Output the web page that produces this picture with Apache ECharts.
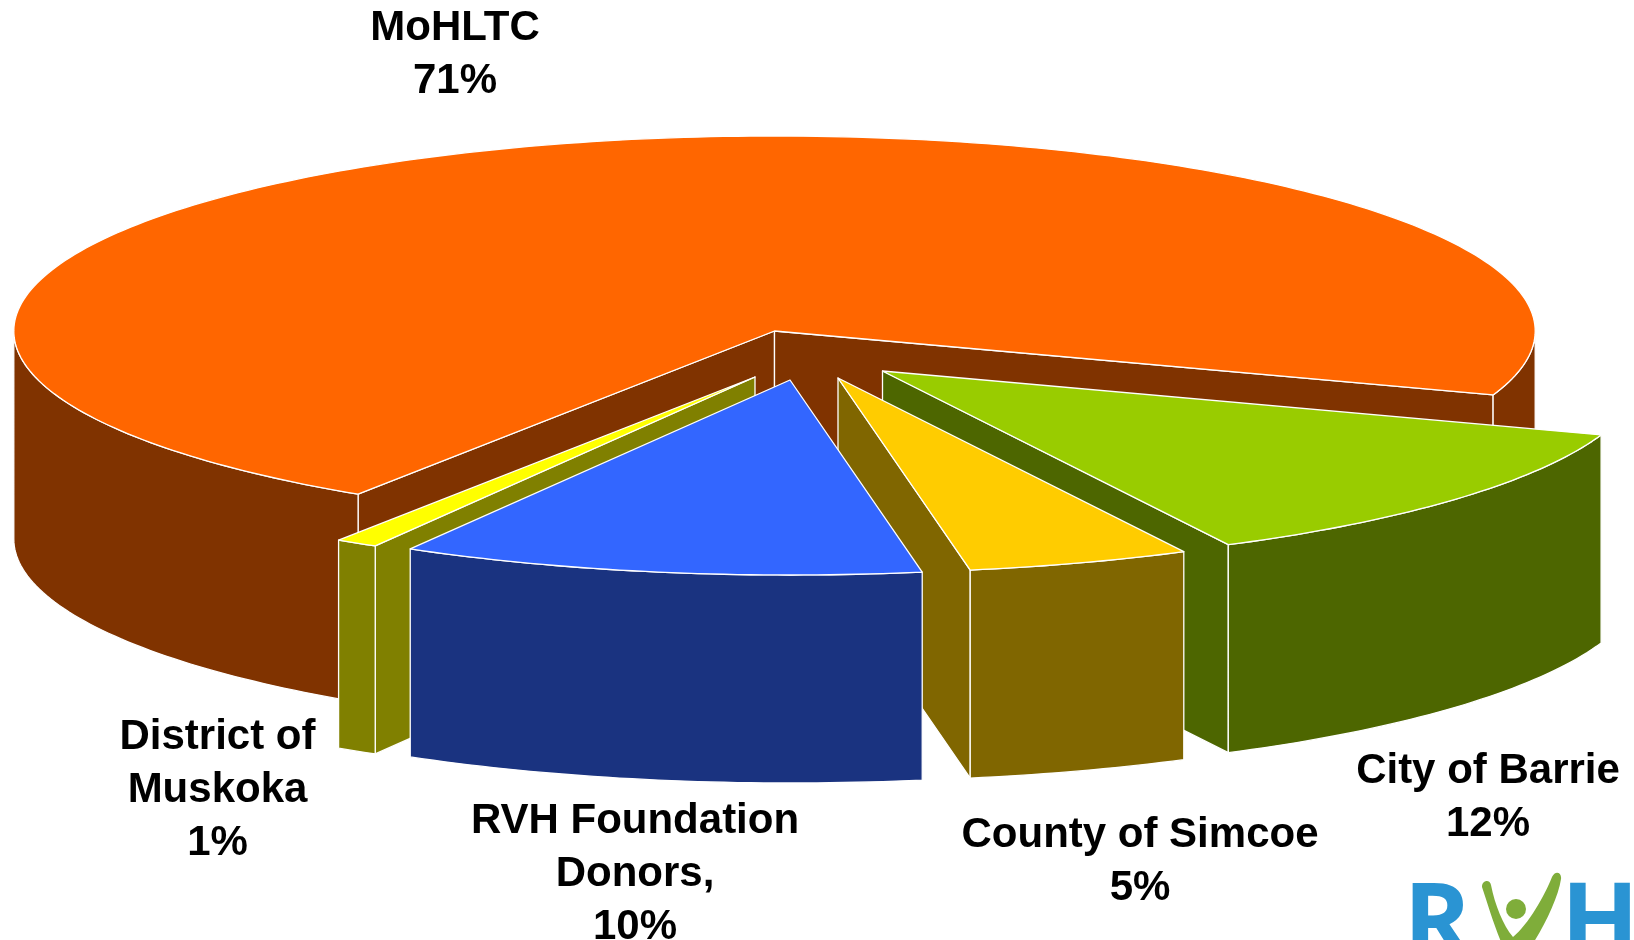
<!DOCTYPE html>
<html>
<head>
<meta charset="utf-8">
<style>html,body{margin:0;padding:0;background:#fff;overflow:hidden}#chart{width:1634px;height:940px}</style>
<script src="https://cdn.jsdelivr.net/npm/echarts@6/dist/echarts.min.js"></script>
</head>
<body>
<div id="chart"></div>
<script>
// Data, clockwise from the first cut edge
const categories = ['City of Barrie', 'County of Simcoe', 'RVH Foundation Donors,', 'District of Muskoka', 'MoHLTC'];
const sliceShares = [12.17, 4.73, 11.1, 0.9, 71.1];   // shares as measured from slice angles
const shareLabels = ['12%', '5%', '10%', '1%', '71%']; // percentages as printed

// Styling and layout
const topColors  = ['#99CC00', '#FFCC00', '#3366FF', '#FFFF00', '#FF6600'];
const wallColors = ['#4D6600', '#806600', '#1A3380', '#808000', '#803300'];
const labelLines = ['City of Barrie', 'County of Simcoe', 'RVH Foundation\nDonors,', 'District of\nMuskoka', 'MoHLTC'];
const explodeX = [108, 63.5, 15.5, -19.5, 0];
const explodeY = [40, 47, 49, 46, 0];
const labelX = [1488, 1140, 635, 217.5, 455];
const labelY = [798, 862, 874, 790, 55];
const paintOrder = [4, 0, 1, 3, 2];
const pie = { cx: 774.5, cy: 331, rx: 760.7, ry: 195, depth: 208, startAngle: 19.15 };

const total = sliceShares.reduce((a, b) => a + b, 0);
const startAngles = [];
sliceShares.reduce((acc, v, i) => { startAngles[i] = acc; return acc + v / total * 360; }, pie.startAngle);

function arcPoints(cx, cy, a0, a1, dz) {
  const pts = [];
  const n = Math.max(2, Math.ceil((a1 - a0) / 1));
  for (let k = 0; k <= n; k++) {
    const t = (a0 + (a1 - a0) * k / n) * Math.PI / 180;
    pts.push([cx + pie.rx * Math.cos(t), cy + pie.ry * Math.sin(t) + dz]);
  }
  return pts;
}
const line = { stroke: '#fff', lineWidth: 1.3, lineJoin: 'round' };
function poly(points, fill) {
  return { type: 'polygon', shape: { points }, style: Object.assign({ fill }, line) };
}

function renderItem(params, api) {
  const i = api.value(0);
  const a0 = startAngles[i];
  const a1 = a0 + api.value(1) / total * 360;
  const cx = pie.cx + explodeX[i], cy = pie.cy + explodeY[i], d = pie.depth;
  const arc = arcPoints(cx, cy, a0, a1, 0);
  const children = [];
  const face = p => poly([[cx, cy], p, [p[0], p[1] + d], [cx, cy + d]], wallColors[i]);
  // Cut faces, only those turned towards the viewer
  if (Math.cos(a0 * Math.PI / 180) < 0) children.push(face(arc[0]));
  if (Math.cos(a1 * Math.PI / 180) > 0) children.push(face(arc[arc.length - 1]));
  // Outer wall: only the arc that faces the viewer
  [0, 360].forEach(base => {
    const s = Math.max(a0, base), e = Math.min(a1, base + 180);
    if (e > s) {
      const up = arcPoints(cx, cy, s, e, 0);
      const down = arcPoints(cx, cy, s, e, d).reverse();
      children.push(poly(up.concat(down), wallColors[i]));
    }
  });
  // Top face
  children.push(poly([[cx, cy]].concat(arc), topColors[i]));
  return { type: 'group', children };
}

function renderLabel(params, api) {
  const i = api.value(0);
  return {
    type: 'text',
    style: {
      text: labelLines[i] + '\n' + shareLabels[i],
      x: labelX[i], y: labelY[i],
      align: 'center', verticalAlign: 'middle',
      font: 'bold 42px "Liberation Sans", Arial, sans-serif',
      lineHeight: 53, fill: '#000'
    }
  };
}

function renderLogoMark() {
  return {
    type: 'group',
    children: [
      { type: 'path', shape: { pathData: 'M1482 887 C1482 880 1490 879 1491 885 C1495 905 1503 925 1513 937 C1528 925 1545 895 1552 877 C1555 870 1562 872 1561 879 C1558 900 1540 935 1525 955 L1508 955 C1500 945 1488 905 1482 887 Z' }, style: { fill: '#7FAD3A' } },
      { type: 'circle', shape: { cx: 1516, cy: 909, r: 10 }, style: { fill: '#7FAD3A' } }
    ]
  };
}

const chart = echarts.init(document.getElementById('chart'), null, { renderer: 'canvas' });
chart.setOption({
  animation: false,
  backgroundColor: '#fff',
  series: [
    {
      type: 'custom', coordinateSystem: 'none', silent: true, clip: false, z: 2,
      renderItem,
      data: paintOrder.map(i => ({ name: categories[i], value: [i, sliceShares[i]] }))
    },
    {
      type: 'custom', coordinateSystem: 'none', silent: true, clip: false, z: 3,
      renderItem: renderLabel,
      data: paintOrder.map(i => ({ name: categories[i], value: [i, sliceShares[i]] }))
    },
    {
      type: 'custom', coordinateSystem: 'none', silent: true, clip: false, z: 6,
      renderItem: renderLogoMark,
      data: [[0]]
    }
  ],
  graphic: [
    { type: 'text', z: 5, style: { text: 'R', x: 1403.5, y: 876, font: 'bold 102px "Open Sans", "Liberation Sans", sans-serif', fill: '#2A94D3', verticalAlign: 'top', align: 'left', lineHeight: 102 } },
    { type: 'text', z: 5, style: { text: 'H', x: 1561, y: 876, font: 'bold 102px "Open Sans", "Liberation Sans", sans-serif', fill: '#2A94D3', verticalAlign: 'top', align: 'left', lineHeight: 102 } }
  ]
});
</script>
</body>
</html>
